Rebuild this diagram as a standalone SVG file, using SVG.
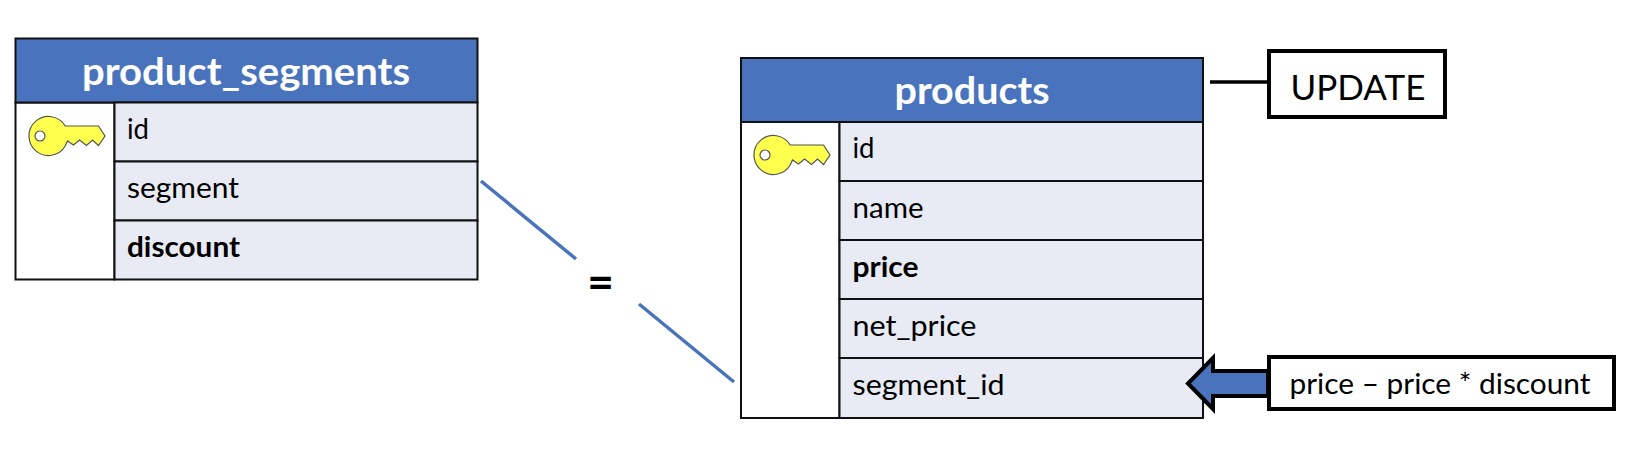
<svg xmlns="http://www.w3.org/2000/svg" width="1626" height="456" viewBox="0 0 1626 456">
<style>
text{font-family:Lato,"Open Sans","Liberation Sans",sans-serif;fill:#000}
.hd{fill:#4a73bd;stroke:#111;stroke-width:2}
.row{fill:#e8eaf4;stroke:#111;stroke-width:2}
.blank{fill:#fff;stroke:#111;stroke-width:2}
.title{font-size:38px;font-weight:700;fill:#fff;text-anchor:middle}
.f{font-size:29px}
.b{font-weight:700}
.conn{stroke:#4a73bd;stroke-width:3.5;fill:none}
.box{fill:#fff;stroke:#000;stroke-width:4}
.key{fill:#ffff4d;stroke:#555;stroke-width:1.2}
</style>
<defs>
<g id="key">
<path class="key" d="M35.700 -10H69L75.500 0L69 9.500L63 4L57 9.500L50 4L44 9L38 5L35.700 10A19.500 19.500 0 1 1 35.700 -10Z"/>
<circle cx="10.500" cy="0" r="5" fill="#fff" stroke="#555" stroke-width="1.200"/>
</g>
</defs>
<g id="product_segments">
<rect class="blank" x="15.500" y="102.500" width="99" height="177"/>
<rect class="hd" x="15.500" y="38.500" width="462" height="64"/>
<text class="title" x="246" y="85" textLength="328" lengthAdjust="spacingAndGlyphs">product_segments</text>
<rect class="row" x="114.500" y="102.500" width="363" height="59"/>
<rect class="row" x="114.500" y="161.500" width="363" height="59"/>
<rect class="row" x="114.500" y="220.500" width="363" height="59"/>
<use href="#key" x="29.500" y="136"/>
<text class="f" x="127" y="139" textLength="22" lengthAdjust="spacingAndGlyphs">id</text>
<text class="f" x="127" y="198" textLength="112" lengthAdjust="spacingAndGlyphs">segment</text>
<text class="f b" x="127" y="257" textLength="113" lengthAdjust="spacingAndGlyphs">discount</text>
</g>
<g id="products">
<rect class="blank" x="741" y="122" width="98.500" height="296"/>
<rect class="hd" x="741" y="58" width="462" height="64"/>
<text class="title" x="972" y="104" textLength="155" lengthAdjust="spacingAndGlyphs">products</text>
<rect class="row" x="839.500" y="122" width="363.500" height="59"/>
<rect class="row" x="839.500" y="181" width="363.500" height="59"/>
<rect class="row" x="839.500" y="240" width="363.500" height="59"/>
<rect class="row" x="839.500" y="299" width="363.500" height="59"/>
<rect class="row" x="839.500" y="358" width="363.500" height="60"/>
<use href="#key" x="754.500" y="155"/>
<text class="f" x="852.500" y="158" textLength="22" lengthAdjust="spacingAndGlyphs">id</text>
<text class="f" x="852.500" y="218" textLength="71" lengthAdjust="spacingAndGlyphs">name</text>
<text class="f b" x="852.500" y="277" textLength="66" lengthAdjust="spacingAndGlyphs">price</text>
<text class="f" x="852.500" y="336" textLength="124" lengthAdjust="spacingAndGlyphs">net_price</text>
<text class="f" x="852.500" y="395" textLength="152" lengthAdjust="spacingAndGlyphs">segment_id</text>
</g>
<g id="update">
<rect class="box" x="1269" y="51" width="176" height="66"/>
<text x="1358" y="100" font-size="35" text-anchor="middle" textLength="135" lengthAdjust="spacingAndGlyphs">UPDATE</text>
</g>
<g id="formula">
<rect class="box" x="1269" y="357" width="345" height="52"/>
<text x="1440" y="394" font-size="29" text-anchor="middle" textLength="301" lengthAdjust="spacingAndGlyphs">price – price * discount</text>
</g>
<g id="connectors">
<line class="conn" x1="481" y1="181" x2="576" y2="259"/>
<line class="conn" x1="639" y1="304" x2="734" y2="382"/>
<line x1="1210" y1="82" x2="1269" y2="82" stroke="#000" stroke-width="3.500"/>
<path d="M1268 371H1213V358L1188 383.500L1213 409V396H1268Z" fill="#4a73bd" stroke="#000" stroke-width="4"/>
</g>
<text x="600.500" y="298" font-size="46" font-weight="700" text-anchor="middle">=</text>
</svg>
